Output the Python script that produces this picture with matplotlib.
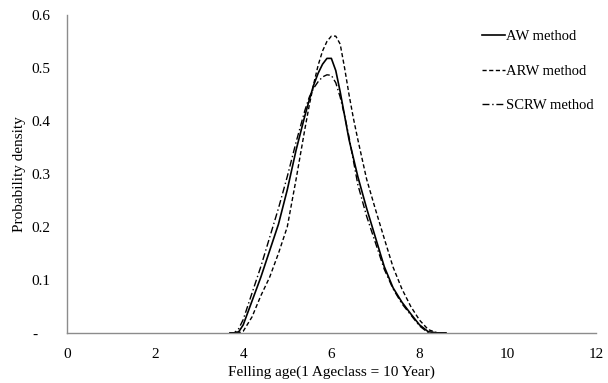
import numpy as np
import matplotlib.pyplot as plt

plt.rcParams['font.family'] = ['Liberation Serif', 'DejaVu Serif']

# felling age (age classes) and probability densities
age = [3.7, 3.8, 3.9, 4.0, 4.2, 4.4, 4.6, 4.8, 5.0, 5.2, 5.4, 5.5, 5.6, 5.7, 5.8,
       5.9, 6.0, 6.1, 6.2, 6.3, 6.4, 6.5, 6.6, 6.8, 7.0, 7.2, 7.4, 7.6, 7.8, 8.0,
       8.2, 8.4, 8.6]

aw = [0, 0, 0.002, 0.015, 0.06, 0.105, 0.155, 0.205, 0.27, 0.345, 0.41, 0.44,
      0.468, 0.49, 0.507, 0.518, 0.518, 0.495, 0.455, 0.41, 0.365, 0.33, 0.295,
      0.235, 0.18, 0.125, 0.085, 0.058, 0.036, 0.015, 0.002, 0, 0]

arw = [0, 0, 0, 0.003, 0.03, 0.07, 0.105, 0.15, 0.20, 0.29, 0.385, 0.43, 0.47,
       0.505, 0.532, 0.55, 0.56, 0.56, 0.545, 0.5, 0.45, 0.405, 0.365, 0.29,
       0.233, 0.178, 0.124, 0.083, 0.05, 0.024, 0.006, 0, 0]

scrw = [0, 0, 0.008, 0.025, 0.075, 0.125, 0.18, 0.235, 0.295, 0.36, 0.42, 0.445,
        0.462, 0.474, 0.483, 0.487, 0.486, 0.472, 0.445, 0.41, 0.37, 0.325, 0.28,
        0.22, 0.17, 0.12, 0.083, 0.055, 0.034, 0.013, 0, 0, 0]

xticks = [0, 2, 4, 6, 8, 10, 12]
yticks = [0, 0.1, 0.2, 0.3, 0.4, 0.5, 0.6]
ylabels = ['-   ', '0.1', '0.2', '0.3', '0.4', '0.5', '0.6']

fig = plt.figure(figsize=(6.08, 3.83), dpi=100)
ax = fig.add_axes([0.110, 0.131, 0.870, 0.830])

ax.plot(age, aw, color='black', lw=1.2, label='AW method')
ax.plot(age, arw, color='black', lw=1.0, ls=(0, (3, 1.8)), label='ARW method')
ax.plot(age, scrw, color='black', lw=1.0, ls=(0, (5, 2, 1, 2)), label='SCRW method')

ax.set_xlim(0, 12)
ax.set_ylim(0, 0.6)
ax.set_xticks(xticks)
ax.set_yticks(yticks)
ax.set_yticklabels(ylabels)
ax.tick_params(length=0, labelsize=11)
ax.tick_params(axis='y', pad=12)
ax.tick_params(axis='x', pad=11)

for s in ['top', 'right']:
    ax.spines[s].set_visible(False)
for s in ['left', 'bottom']:
    ax.spines[s].set_color('#8c8c8c')
    ax.spines[s].set_linewidth(1.0)

ax.set_xlabel('Felling age(1 Ageclass = 10 Year)', fontsize=11, labelpad=3)
ax.set_ylabel('Probability density', fontsize=11, labelpad=4)

ax.legend(loc='upper left', bbox_to_anchor=(0.792, 0.921),
          bbox_transform=fig.transFigure, frameon=False, fontsize=10.5,
          borderaxespad=0, borderpad=0,
          handlelength=1.6, handletextpad=0.1, labelspacing=1.46)

fig.savefig('out.png', dpi=100)
